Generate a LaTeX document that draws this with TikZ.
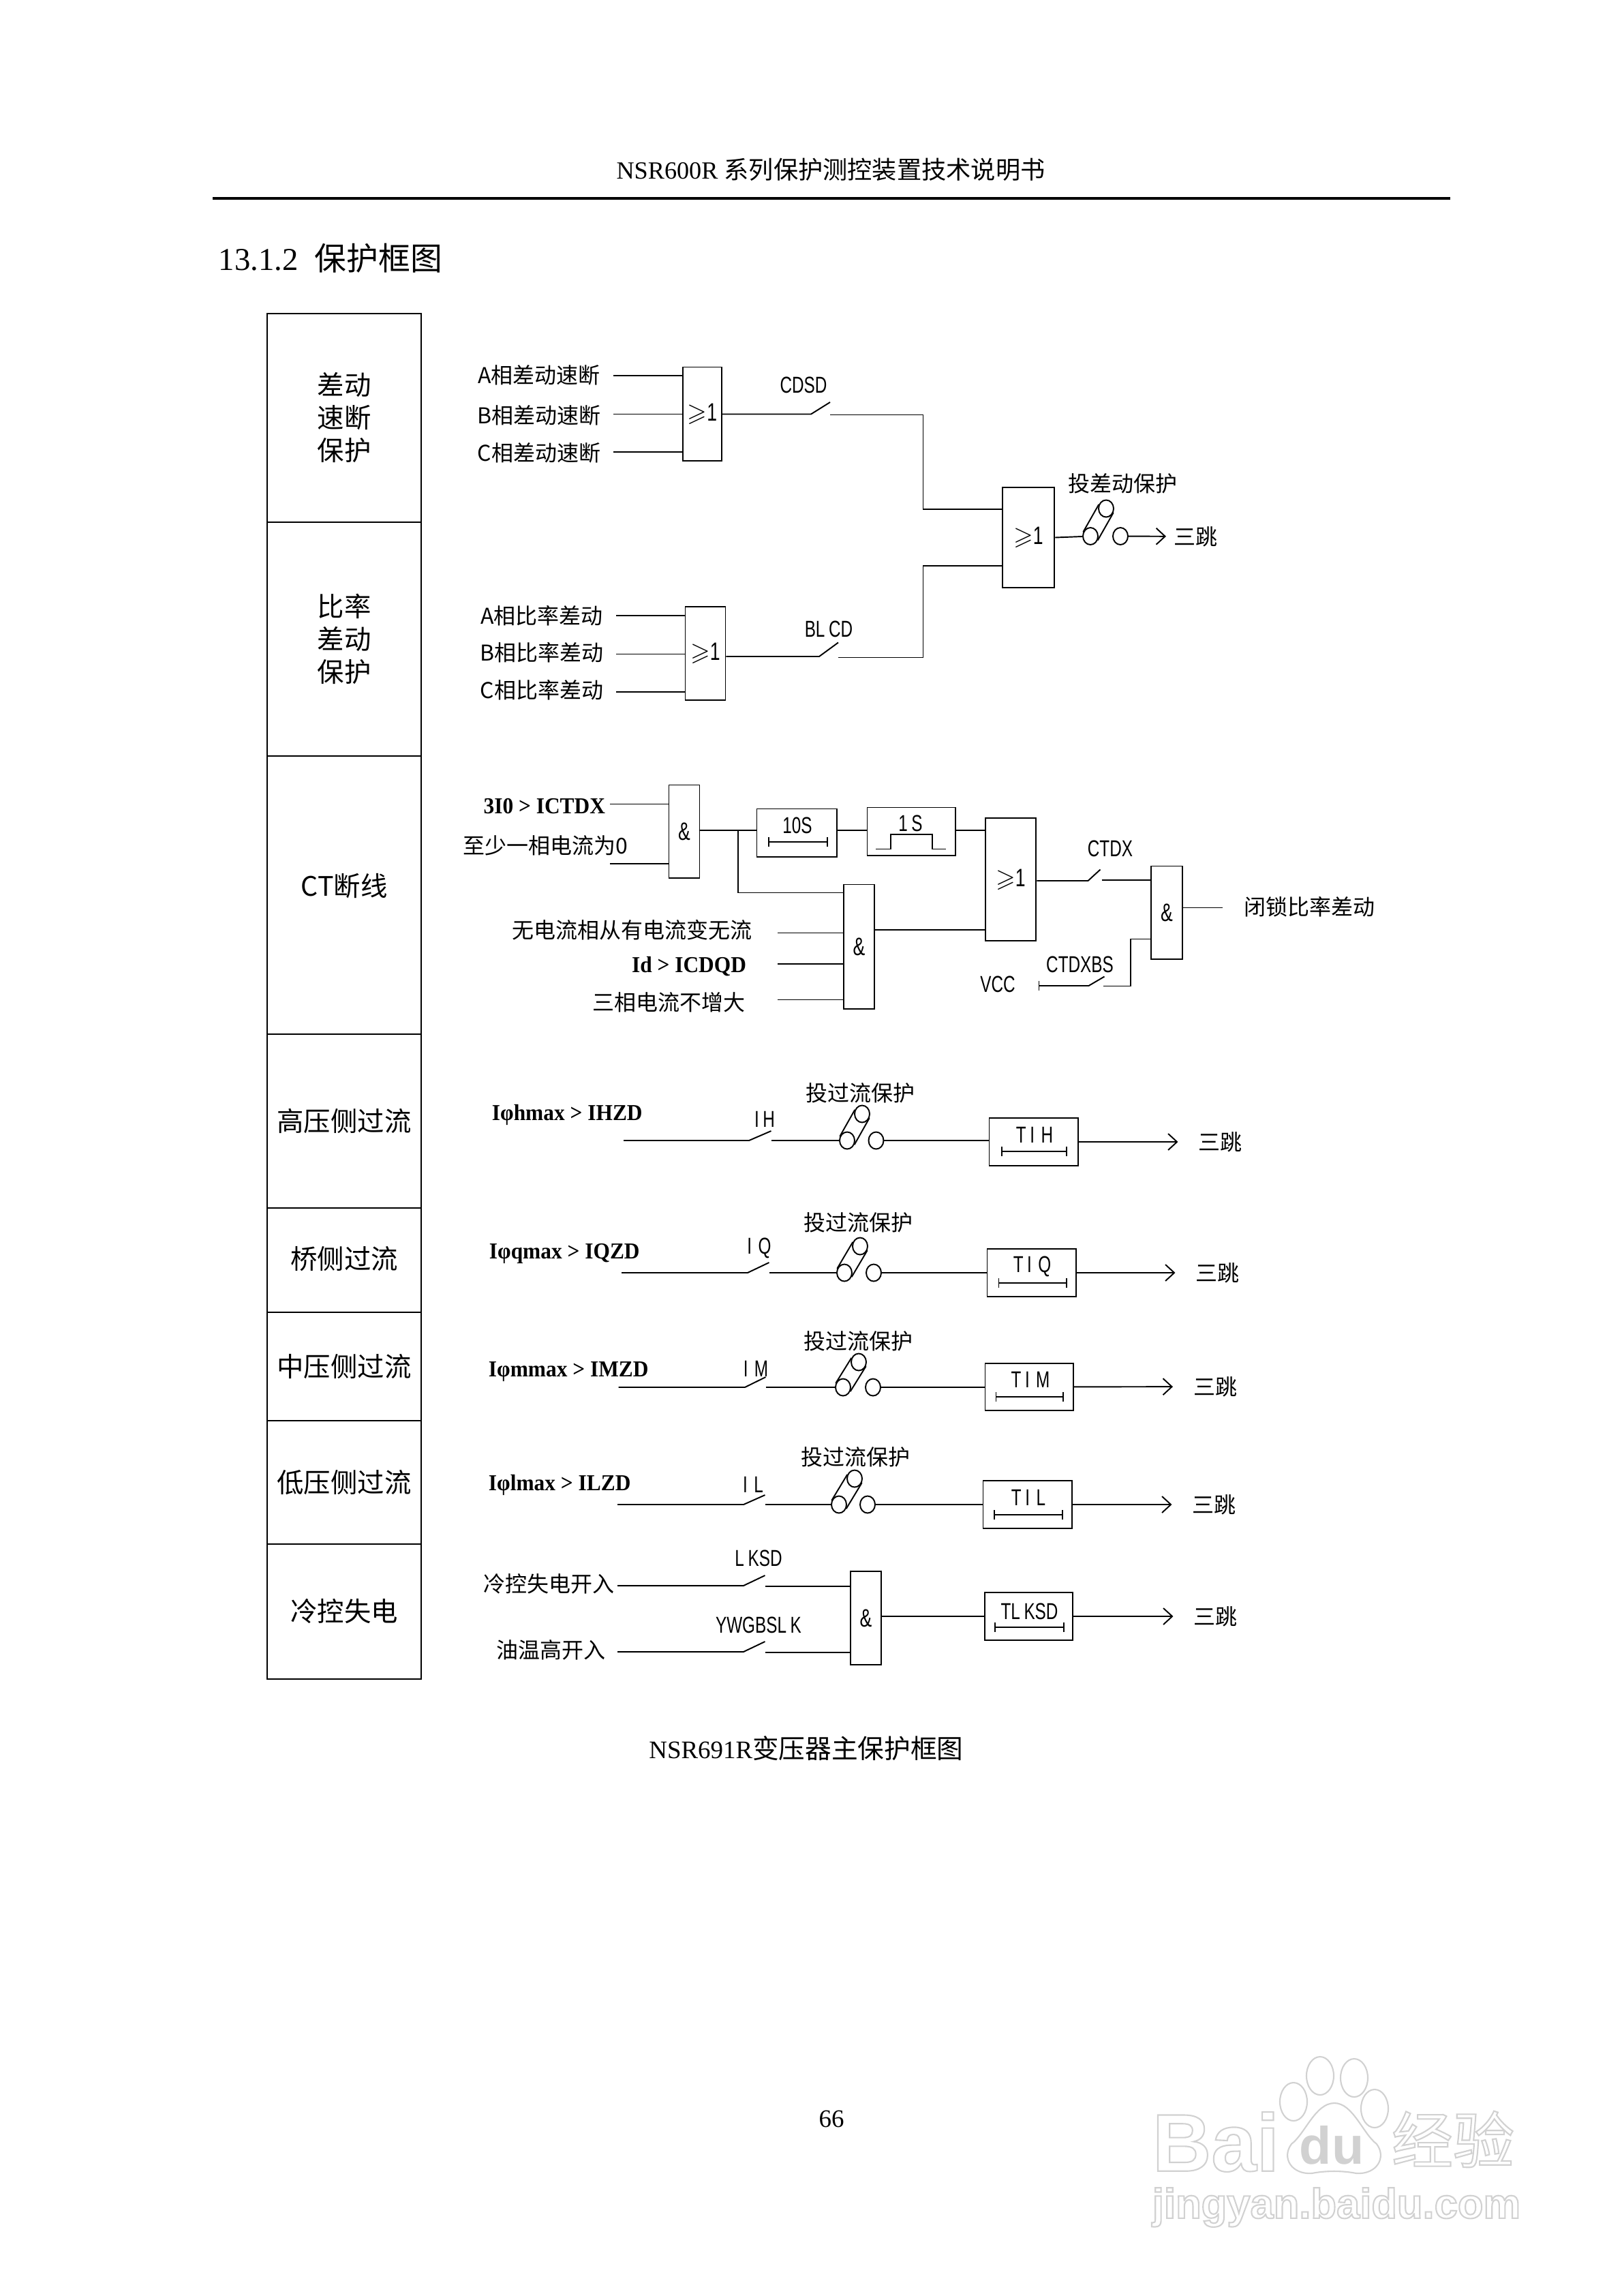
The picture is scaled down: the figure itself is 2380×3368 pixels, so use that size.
\documentclass[tikz,border=0pt]{standalone}
\usepackage{amsmath, amssymb}
\usepackage{fontspec}
\setmainfont{Liberation Serif}
\setsansfont{Liberation Sans}
\newfontfamily\cjk{Noto Sans CJK SC}
\newfontfamily\sigfont[FakeStretch=0.72]{Liberation Sans}
\newfontfamily\condfont[FakeStretch=0.94]{Liberation Serif}
\usepackage{tikz}
\usetikzlibrary{shapes.geometric,arrows.meta}
\definecolor{mywm}{rgb}{0.82,0.82,0.82}
\newcommand{\wmoutline}[1]{\special{pdf:code q 1 Tr 0.6 w 0.82 G}#1\special{pdf:code 0 Tr Q}}

\begin{document}
\begin{tikzpicture}[%
    x=.01cm,y=-.01cm,line width=.55pt,
    >={Straight Barb[length=.13cm,width=.24cm]},
    cell/.style   = {draw, rectangle, minimum width = 2.26cm, align=center, inner sep=0pt, font=\cjk\fontsize{11.2}{13.7}\selectfont},
    gate/.style   = {draw, rectangle, inner sep=0pt, font=\sigfont\fontsize{10.5}{12}\selectfont},
    tbox/.style   = {draw, rectangle, inner sep=0pt},
    zh/.style     = {inner sep=0pt, font=\cjk\fontsize{9.1}{11}\selectfont},
    trip/.style   = {zh, outer xsep=.3cm},
    sig/.style    = {inner sep=0pt, font=\sigfont\fontsize{9.6}{11}\selectfont},
    cond/.style   = {inner sep=0pt, font=\condfont\bfseries\fontsize{9.5}{11}\selectfont},
    pin/.style    = {draw, ellipse, inner sep=0pt, minimum width=.22cm, minimum height=.25cm},
    timer/.style  = {{Bar[width=.14cm]}-{Bar[width=.14cm]}},
    wm/.style     = {inner sep=0pt, text=white}]

  \useasboundingbox (0,0) rectangle (2380,3368);

  % page
  \draw (1219,249) node[inner sep=0pt, font=\fontsize{10.3}{12}\selectfont] (head) {NSR600R {\cjk 系列保护测控装置技术说明书}};
  \coordinate (ruleL) at (312,291);
  \coordinate (ruleR) at (2128,291);
  \draw[line width=.9pt] (ruleL) -- (ruleR);
  \draw (320,379) node[anchor=west, inner sep=0pt, font=\fontsize{13.3}{15}\selectfont] (title) {13.1.2\hspace{.24cm}{\cjk 保护框图}};
  \draw (1183,2565) node[inner sep=0pt, font=\fontsize{10.5}{12}\selectfont] (capt) {NSR691R{\cjk\fontsize{11}{12}\selectfont 变压器主保护框图}};
  \draw (1220,3108) node[inner sep=0pt, font=\fontsize{10.5}{12}\selectfont] (pageno) {66};

  % left column
  \draw (505,612.8) node[cell, minimum height=3.056cm] (c1) {\raisebox{-.06cm}{差动}\\\raisebox{-.06cm}{速断}\\\raisebox{-.06cm}{保护}};
  \draw (505,937.3) node[cell, minimum height=3.434cm] (c2) {比率\\差动\\保护};
  \draw (505,1313) node[cell, minimum height=4.08cm] (c3) {\raisebox{.3cm}{CT断线}};
  \draw (505,1644.5) node[cell, minimum height=2.55cm] (c4) {\raisebox{.04cm}{高压侧过流}};
  \draw (505,1848.5) node[cell, minimum height=1.53cm] (c5) {\raisebox{.08cm}{桥侧过流}};
  \draw (505,2004.5) node[cell, minimum height=1.59cm] (c6) {\raisebox{.04cm}{中压侧过流}};
  \draw (505,2174.5) node[cell, minimum height=1.81cm] (c7) {\raisebox{.04cm}{低压侧过流}};
  \draw (505,2364) node[cell, minimum height=1.98cm] (c8) {\raisebox{.04cm}{冷控失电}};

  % differential
  \draw (791,550.5) node[zh] (la1) {A相差动速断};
  \draw (791,609.5) node[zh] (la2) {B相差动速断};
  \draw (791,664) node[zh] (la3) {C相差动速断};
  \coordinate (a1) at (900,551);
  \coordinate (a2) at (900,607.5);
  \coordinate (a3) at (900,663);
  \draw (1030.5,607) node[gate, minimum width=.575cm, minimum height=1.37cm] (or1) {$\geqslant$1};
  \draw (a1) -- (a1 -| or1.west);
  \draw (a2) -- (a2 -| or1.west);
  \draw (a3) -- (a3 -| or1.west);
  \draw (1179,565) node[sig] (lcdsd) {CDSD};
  \coordinate (s1a) at (1190,607.5);
  \coordinate (s1b) at (1218,590);
  \coordinate (s1c) at (1218,608.5);
  \draw (or1.east |- s1a) -- (s1a) -- (s1b);
  \draw (1509,788.5) node[gate, minimum width=.765cm, minimum height=1.475cm] (or3) {$\geqslant$1};
  \coordinate (j1) at (1354.5,747);
  \draw (s1c) -| (j1) -- (j1 -| or3.west);

  \draw (795,903) node[zh] (lb1) {A相比率差动};
  \draw (795,957) node[zh] (lb2) {B相比率差动};
  \draw (795,1012.5) node[zh] (lb3) {C相比率差动};
  \coordinate (b1) at (904,903);
  \coordinate (b2) at (904,959.5);
  \coordinate (b3) at (904,1015);
  \draw (1035,958.5) node[gate, minimum width=.59cm, minimum height=1.37cm] (or2) {$\geqslant$1};
  \draw (b1) -- (b1 -| or2.west);
  \draw (b2) -- (b2 -| or2.west);
  \draw (b3) -- (b3 -| or2.west);
  \draw (1216,923) node[sig] (lblcd) {BL\,CD};
  \coordinate (s2a) at (1202,963);
  \coordinate (s2b) at (1230,942.5);
  \coordinate (s2c) at (1230,964.5);
  \draw (or2.east |- s2a) -- (s2a) -- (s2b);
  \coordinate (j2) at (1354.5,830);
  \draw (s2c) -| (j2) -- (j2 -| or3.west);

  \draw (1647,709) node[zh] (lcd) {投差动保护};
  \draw (1600,786.5) node[pin] (k1l) {};
  \draw (1623,746) node[pin] (k1t) {};
  \draw (1644,786.5) node[pin] (k1r) {};
  \draw (k1l.150) -- (k1t.150);
  \draw (k1l.-30) -- (k1t.-30);
  \draw (or3.east) -- (k1l);
  \draw (1754,787) node[zh, outer xsep=.11cm] (tr1) {三跳};
  \draw[->] (k1r) -- (tr1);

  % CT
  \draw (889,1183) node[cond, anchor=east] (lc1) {3I0 > ICTDX};
  \draw (800,1240) node[zh] (lc2) {至少一相电流为0};
  \coordinate (c1i) at (895,1179.5);
  \coordinate (c2i) at (895,1267);
  \draw (1004,1219.5) node[gate, minimum width=.45cm, minimum height=1.36cm] (and1) {\&};
  \draw (c1i) -- (c1i -| and1.west);
  \draw (c2i) -- (c2i -| and1.west);
  \draw (1169,1221.5) node[tbox, minimum width=1.17cm, minimum height=.70cm] (t10) {};
  \draw (1337,1219.5) node[tbox, minimum width=1.29cm, minimum height=.70cm] (t1s) {};
  \draw (1483,1290) node[gate, minimum width=.745cm, minimum height=1.80cm] (or4) {$\geqslant$1};
  \coordinate (ct1) at (1083,1218);
  \draw (ct1 -| and1.east) -- (ct1 -| t10.west);
  \draw (ct1 -| t10.east) -- (ct1 -| t1s.west);
  \draw (ct1 -| t1s.east) -- (ct1 -| or4.west);
  \draw (1170,1211) node[sig] (l10) {10S};
  \draw[timer] (1127,1235) -- (1215,1235);
  \draw (1336,1208) node[sig] (l1s) {1\,S};
  \draw (1285,1245.5) -- (1307,1245.5) -- (1307,1224) -- (1368,1224) -- (1368,1245.5) -- (1388,1245.5);

  \draw (1260.5,1388.5) node[gate, minimum width=.45cm, minimum height=1.82cm] (and2) {\&};
  \coordinate (ct2) at (1238,1309.5);
  \draw (ct1) |- (ct2 -| and2.west);
  \draw (1104,1364) node[zh, anchor=east] (lc3) {无电流相从有电流变无流};
  \draw (1096,1418) node[cond, anchor=east] (lc4) {Id > ICDQD};
  \draw (1094,1470) node[zh, anchor=east] (lc5) {三相电流不增大};
  \coordinate (c3i) at (1141,1368.5);
  \coordinate (c4i) at (1141,1414);
  \coordinate (c5i) at (1141,1466.5);
  \draw (c3i) -- (c3i -| and2.west);
  \draw (c4i) -- (c4i -| and2.west);
  \draw (c5i) -- (c5i -| and2.west);
  \coordinate (ct3) at (1446,1364);
  \draw (ct3 -| and2.east) -- (ct3 -| or4.west);

  \draw (1712,1338.5) node[gate, minimum width=.455cm, minimum height=1.36cm] (and3) {\&};
  \draw (1629,1245) node[sig] (lctdx) {CTDX};
  \coordinate (s3a) at (1596.5,1292);
  \coordinate (s3b) at (1614.5,1275.5);
  \coordinate (s3c) at (1616.5,1291);
  \draw (or4.east |- s3a) -- (s3a) -- (s3b);
  \draw (s3c) -- (s3c -| and3.west);
  \draw (1921.5,1330) node[zh] (lock) {闭锁比率差动};
  \coordinate (ct4) at (1793.5,1331.5);
  \draw (ct4 -| and3.east) -- (ct4);
  \draw (1464,1444) node[sig] (lvcc) {VCC};
  \draw (1584.5,1415) node[sig] (lbs) {CTDXBS};
  \coordinate (vcc) at (1524.5,1446);
  \coordinate (s4a) at (1597.5,1446);
  \coordinate (s4b) at (1620.5,1432.5);
  \coordinate (s4c) at (1618.5,1446.5);
  \coordinate (j3) at (1659,1377.5);
  \draw (1524.5,1438.5) -- (1524.5,1453);
  \draw (vcc) -- (s4a) -- (s4b);
  \draw (s4c) -| (j3) -- (j3 -| and3.west);

  % high side
  \draw (721,1635) node[cond, anchor=west] (lh) {Iφhmax > IHZD};
  \draw (1122,1642) node[sig] (lih) {I\,H};
  \draw (1262,1603) node[zh] (lph) {投过流保护};
  \coordinate (hi) at (915,1673);
  \coordinate (s5a) at (1099,1673);
  \coordinate (s5b) at (1131.5,1659);
  \coordinate (s5c) at (1131.5,1673);
  \draw (1243,1673) node[pin] (khl) {};
  \draw (1265,1634) node[pin] (kht) {};
  \draw (1285.5,1673) node[pin] (khr) {};
  \draw (khl.150) -- (kht.150);
  \draw (khl.-30) -- (kht.-30);
  \draw (hi) -- (s5a) -- (s5b);
  \draw (s5c) -- (khl);
  \draw (1516.5,1675) node[tbox, minimum width=1.30cm, minimum height=.70cm] (tih) {};
  \draw (khr) -- (khr -| tih.west);
  \draw (1518,1665) node[sig] (ltih) {T\,I\;H};
  \draw[timer] (1469,1689) -- (1565.5,1689);
  \draw (1790.5,1675) node[trip] (trh) {三跳};
  \draw[->] (tih) -- (trh);

  % bridge side
  \draw (717,1839) node[cond, anchor=west] (lq) {Iφqmax > IQZD};
  \draw (1114,1831) node[sig] (liq) {I\;Q};
  \draw (1259,1793) node[zh] (lpq) {投过流保护};
  \coordinate (qi) at (912,1867);
  \coordinate (s6a) at (1097,1867);
  \coordinate (s6b) at (1128.5,1852);
  \coordinate (s6c) at (1128.5,1867);
  \draw (1239,1867) node[pin] (kql) {};
  \draw (1262,1828) node[pin] (kqt) {};
  \draw (1282,1867) node[pin] (kqr) {};
  \draw (kql.150) -- (kqt.150);
  \draw (kql.-30) -- (kqt.-30);
  \draw (qi) -- (s6a) -- (s6b);
  \draw (s6c) -- (kql);
  \draw (1513.5,1867) node[tbox, minimum width=1.30cm, minimum height=.70cm] (tiq) {};
  \draw (kqr) -- (kqr -| tiq.west);
  \draw (1514.5,1858) node[sig] (ltiq) {T\,I\;Q};
  \draw[timer] (1464.5,1882) -- (1565.5,1882);
  \draw (1786.5,1867) node[trip] (trq) {三跳};
  \draw[->] (tiq) -- (trq);

  % medium side
  \draw (716,2012) node[cond, anchor=west] (lm) {Iφmmax > IMZD};
  \draw (1109,2008) node[sig] (lim) {I\;M};
  \draw (1259,1967) node[zh] (lpm) {投过流保护};
  \coordinate (mi) at (907.5,2035);
  \coordinate (s7a) at (1093,2035);
  \coordinate (s7b) at (1123.5,2020);
  \coordinate (s7c) at (1123.5,2035);
  \draw (1237,2035) node[pin] (kml) {};
  \draw (1260,1998) node[pin] (kmt) {};
  \draw (1281,2035) node[pin] (kmr) {};
  \draw (kml.150) -- (kmt.150);
  \draw (kml.-30) -- (kmt.-30);
  \draw (mi) -- (s7a) -- (s7b);
  \draw (s7c) -- (kml);
  \draw (1510,2034.5) node[tbox, minimum width=1.29cm, minimum height=.69cm] (tim) {};
  \draw (kmr) -- (kmr -| tim.west);
  \draw (1512,2024) node[sig] (ltim) {T\,I\;M};
  \draw[timer] (1460.5,2049) -- (1561,2049);
  \draw (1783,2034) node[trip] (trm) {三跳};
  \draw[->] (tim) -- (trm);

  % low side
  \draw (716,2178) node[cond, anchor=west] (ll) {Iφlmax > ILZD};
  \draw (1105,2178) node[sig] (lil) {I\;L};
  \draw (1255.5,2137) node[zh] (lpl) {投过流保护};
  \coordinate (li) at (906,2207);
  \coordinate (s8a) at (1091,2207);
  \coordinate (s8b) at (1122.5,2193);
  \coordinate (s8c) at (1122.5,2207);
  \draw (1231,2207) node[pin] (kll) {};
  \draw (1254,2169) node[pin] (klt) {};
  \draw (1273,2207) node[pin] (klr) {};
  \draw (kll.150) -- (klt.150);
  \draw (kll.-30) -- (klt.-30);
  \draw (li) -- (s8a) -- (s8b);
  \draw (s8c) -- (kll);
  \draw (1507.5,2207) node[tbox, minimum width=1.30cm, minimum height=.70cm] (til) {};
  \draw (klr) -- (klr -| til.west);
  \draw (1509,2197) node[sig] (ltil) {T\,I\;L};
  \draw[timer] (1458,2222) -- (1560,2222);
  \draw (1781.5,2207) node[trip] (trl) {三跳};
  \draw[->] (til) -- (trl);

  % cooling
  \draw (805,2323) node[zh] (lk1) {冷控失电开入};
  \draw (808,2420) node[zh] (lk2) {油温高开入};
  \draw (1113,2286) node[sig] (llk) {L\,KSD};
  \draw (1113,2384) node[sig] (lyw) {YWGBSL\,K};
  \coordinate (k1i) at (906,2326);
  \coordinate (s9a) at (1091,2326);
  \coordinate (s9b) at (1122.5,2311);
  \coordinate (s9c) at (1122.5,2327);
  \coordinate (k2i) at (906,2423);
  \coordinate (s0a) at (1091,2423);
  \coordinate (s0b) at (1122.5,2408);
  \coordinate (s0c) at (1122.5,2424);
  \draw (1270.5,2373.5) node[gate, minimum width=.45cm, minimum height=1.37cm] (and4) {\&};
  \draw (k1i) -- (s9a) -- (s9b);
  \draw (k2i) -- (s0a) -- (s0b);
  \draw (s9c) -- (s9c -| and4.west);
  \draw (s0c) -- (s0c -| and4.west);
  \draw (1509.5,2371) node[tbox, minimum width=1.29cm, minimum height=.70cm] (tlk) {};
  \draw (and4.east |- tlk) -- (tlk);
  \draw (1510.5,2364) node[sig] (ltlk) {TL\,KSD};
  \draw[timer] (1459,2387) -- (1562,2387);
  \draw (1783.5,2371) node[trip] (trk) {三跳};
  \draw[->] (tlk) -- (trk);

  % watermark
  \draw (1784,3142) node[wm, font=\sffamily\bfseries\fontsize{34}{36}\selectfont] (wm1) {\wmoutline{Bai}};
  \draw[mywm, line width=.6pt] (1898,3083) ellipse (20 and 28);
  \draw[mywm, line width=.6pt] (1937,3045) ellipse (20 and 28);
  \draw[mywm, line width=.6pt] (1987,3048) ellipse (20 and 28);
  \draw[mywm, line width=.6pt] (2017,3093) ellipse (20 and 28);
  \draw[mywm, line width=.6pt] (1958,3085) .. controls (1985,3085) and (2000,3130) .. (2020,3145) .. controls (2035,3165) and (2020,3190) .. (1990,3188) .. controls (1970,3184) and (1945,3184) .. (1925,3188) .. controls (1895,3190) and (1880,3165) .. (1895,3145) .. controls (1915,3130) and (1930,3085) .. (1958,3085);
  \draw (1954,3147) node[wm, font=\sffamily\bfseries\fontsize{22}{24}\selectfont, text=mywm] (wm2) {du};
  \draw (2132,3138) node[wm, font=\cjk\fontsize{25.6}{28}\selectfont] (wm3) {\wmoutline{经验}};
  \draw (1961,3238) node[wm, font=\sffamily\bfseries\fontsize{17.5}{20}\selectfont] (wm4) {\wmoutline{jingyan.baidu.com}};

\end{tikzpicture}
\end{document}
